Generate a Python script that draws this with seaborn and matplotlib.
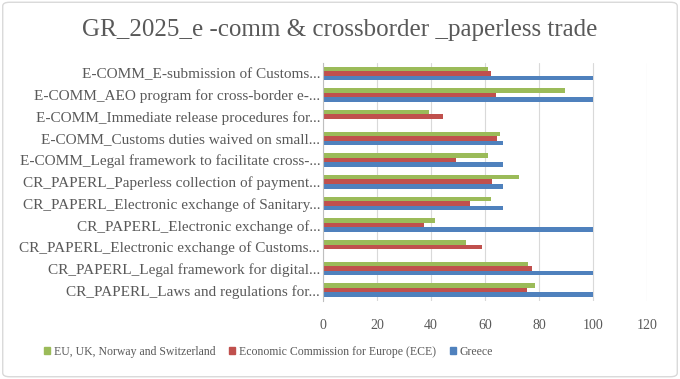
import pandas as pd
import matplotlib.pyplot as plt
import seaborn as sns
from matplotlib.patches import FancyBboxPatch

sns.set_style("white")
plt.rcParams['font.family'] = ['Liberation Serif', 'DejaVu Serif']

categories = [
    "E-COMM_E-submission of Customs...",
    "E-COMM_AEO program for cross-border e-...",
    "E-COMM_Immediate release procedures for...",
    "E-COMM_Customs duties waived on small...",
    "E-COMM_Legal framework to facilitate cross-...",
    "CR_PAPERL_Paperless collection of payment...",
    "CR_PAPERL_Electronic exchange of Sanitary...",
    "CR_PAPERL_Electronic exchange of...",
    "CR_PAPERL_Electronic exchange of Customs...",
    "CR_PAPERL_Legal framework for digital...",
    "CR_PAPERL_Laws and regulations for...",
]
series = ["EU, UK, Norway and Switzerland", "Economic Commission for Europe (ECE)", "Greece"]
eu = [61.2, 89.8, 39.1, 65.5, 61.2, 72.6, 62.2, 41.6, 53.0, 76.0, 78.4]
ece = [62.2, 64.0, 44.5, 64.4, 49.2, 62.6, 54.5, 37.3, 58.8, 77.4, 75.5]
greece = [100, 100, 0, 66.8, 66.8, 66.8, 66.8, 100, 0, 100, 100]
colors = ["#9BBB59", "#C0504D", "#4F81BD"]

rows = []
for name, vals in zip(series, [eu, ece, greece]):
    for cat, v in zip(categories, vals):
        rows.append({"category": cat, "series": name, "value": v})
df = pd.DataFrame(rows)

fig = plt.figure(figsize=(6.8, 3.79), dpi=100)
ax = fig.add_axes([323 / 680, 1 - 301 / 379, (647 - 323) / 680, 238.5 / 379])

sns.barplot(data=df, y="category", x="value", hue="series", order=categories,
            hue_order=series, palette=colors, orient="h", width=0.63,
            saturation=1, linewidth=0, ax=ax)

ax.set_xlim(0, 120)
ax.set_xticks(range(0, 121, 20))
ax.xaxis.grid(True, color="#d9d9d9", linewidth=0.8)
ax.set_axisbelow(True)
for s in ["top", "right", "bottom"]:
    ax.spines[s].set_visible(False)
ax.spines["left"].set_color("#bfbfbf")
ax.set_xlabel("")
ax.set_ylabel("")
ax.tick_params(axis="x", length=0, pad=13, labelsize=10, labelcolor="#595959")
ax.tick_params(axis="y", length=0, pad=2, labelsize=11, labelcolor="#595959")

ax.legend_.remove()
handles = [plt.Rectangle((0, 0), 1, 1, color=c) for c in colors]
fig.legend(handles, series, loc="center", bbox_to_anchor=(0.395, 1 - 352 / 379),
           ncol=3, frameon=False, fontsize=8.5, handlelength=0.5, handleheight=0.5,
           handletextpad=0.3, columnspacing=1.2, labelcolor="#595959")

fig.text(0.5, 1 - 30 / 379, "GR_2025_e -comm & crossborder _paperless trade",
         ha="center", va="center", fontsize=18, color="#595959")

fig.patches.append(FancyBboxPatch((0.004, 0.006), 0.992, 0.988,
                                  boxstyle="round,pad=0,rounding_size=0.01",
                                  transform=fig.transFigure, fill=False,
                                  edgecolor="#d9d9d9", linewidth=1))

fig.savefig("out.png", dpi=100)
